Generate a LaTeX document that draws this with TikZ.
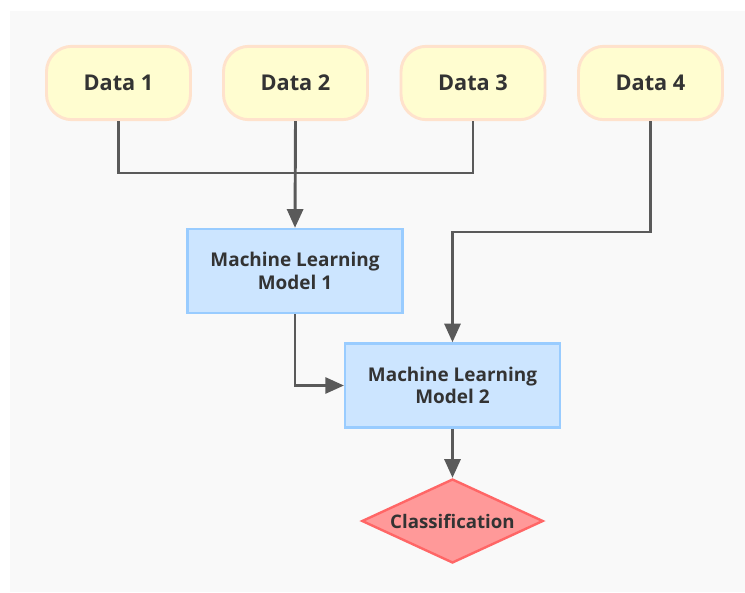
\documentclass[tikz,border=0pt]{standalone}
\usepackage{fontspec}
\setmainfont{Open Sans}
\usetikzlibrary{shapes.geometric,arrows.meta}
\definecolor{bgc}{HTML}{F9F9F9}
\definecolor{datafill}{HTML}{FFFDD0}
\definecolor{datadraw}{HTML}{FFE2CC}
\definecolor{mlfill}{HTML}{CCE5FF}
\definecolor{mldraw}{HTML}{99CCFF}
\definecolor{clfill}{HTML}{FF9999}
\definecolor{cldraw}{HTML}{FF6666}
\definecolor{linec}{HTML}{5A5A5A}
\definecolor{txt}{HTML}{333333}
\tikzset{
  px/.style={x=0.75pt,y=-0.75pt},
  databox/.style={rectangle, rounded corners=19pt, fill=datafill, draw=datadraw, line width=2.2pt,
    minimum width=108pt, minimum height=55pt, font=\bfseries\fontsize{16.3}{19}\selectfont, text=txt},
  mlbox/.style={rectangle, fill=mlfill, draw=mldraw, line width=1.8pt,
    minimum width=161pt, minimum height=63pt, align=center, font=\bfseries\fontsize{14.2}{17}\selectfont, text=txt},
  clbox/.style={diamond, aspect=2.15, fill=clfill, draw=cldraw, line width=1.8pt, inner sep=0pt,
    minimum width=136pt, minimum height=63pt, font=\bfseries\fontsize{14}{16}\selectfont, text=txt},
  conn/.style={draw=linec, line width=2.2pt},
  arr/.style={conn, -{Triangle[length=14pt,width=12pt]}},
}
\begin{document}
\begin{tikzpicture}[px]
\useasboundingbox (0,0) rectangle (745,592);
\fill[bgc] (10,11) rectangle (745,592);
\node[databox] (d1) at (118.5,83) {Data 1};
\node[databox] (d2) at (295.5,83) {Data 2};
\node[databox] (d3) at (473,83) {Data 3};
\node[databox] (d4) at (650.5,83) {Data 4};
\node[mlbox] (m1) at (295,271) {Machine Learning\\Model 1};
\node[mlbox] (m2) at (452.5,385.5) {Machine Learning\\Model 2};
\node[clbox] (c) at (452.5,521) {Classification};
\coordinate (j) at (295,173);
\draw[conn] (d1.south) |- (j);
\draw[conn] (d3.south) |- (j);
\draw[arr] (d2.south) -- (m1.north);
\draw[arr] (d4.south) |- (452.5,232) -- (m2.north);
\draw[arr] (m1.south) |- (m2.west);
\draw[arr] (m2.south) -- (c.north);
\end{tikzpicture}
\end{document}
